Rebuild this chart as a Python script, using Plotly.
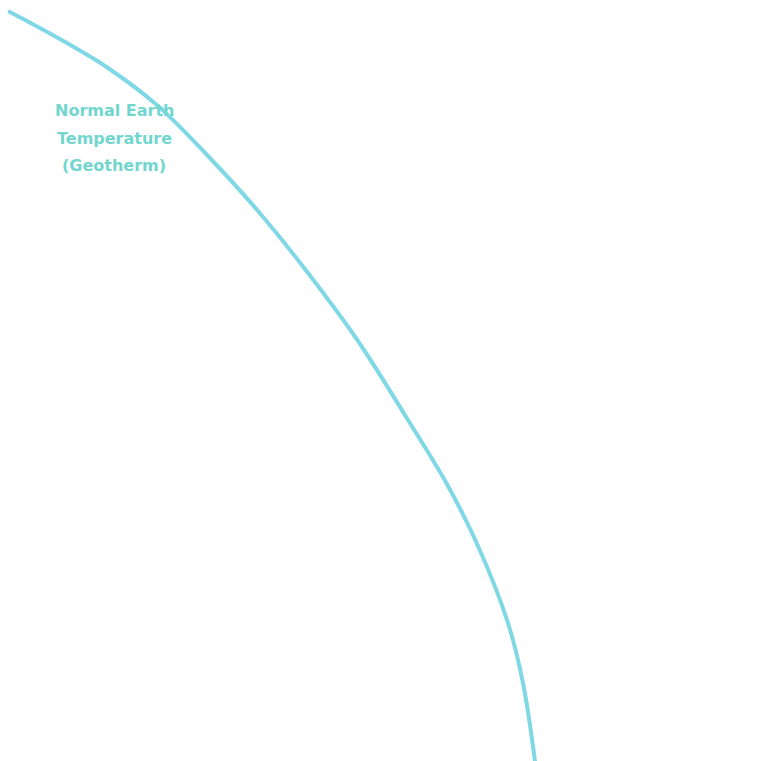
import plotly.graph_objects as go

# geotherm curve (x = temperature units, y = depth units)
temperature = [0, 50, 100, 150, 200, 250, 300, 350, 400, 440, 470, 500, 515, 528]
depth = [3, 30, 60, 98, 148, 203, 265, 333, 412, 478, 538, 615, 675, 761]

label_lines = ["Normal Earth", "Temperature", "(Geotherm)"]
label_y = [102, 130, 157]

fig = go.Figure()
fig.add_trace(go.Scatter(x=temperature, y=depth, mode="lines", line_shape="spline",
                         line=dict(color="#80d8e6", width=4), showlegend=False))
for txt, yy in zip(label_lines, label_y):
    fig.add_annotation(x=106, y=yy, text="<b>" + txt + "</b>", showarrow=False,
                       font=dict(family="DejaVu Sans", size=16, color="#72d6cf"))
fig.update_xaxes(range=[0, 764], visible=False)
fig.update_yaxes(range=[761, 0], visible=False)
fig.update_layout(width=764, height=761, margin=dict(l=0, r=0, t=0, b=0),
                  plot_bgcolor="white", paper_bgcolor="white")
fig.write_html("out.html")
